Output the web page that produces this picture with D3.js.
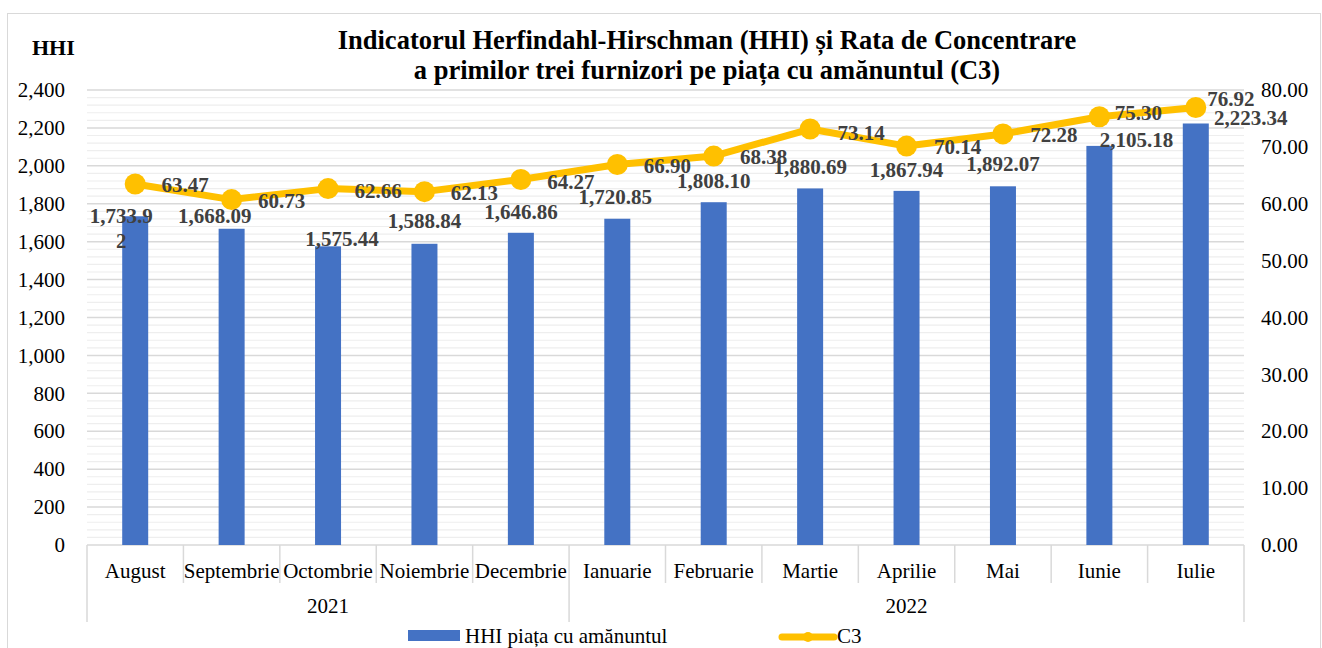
<!DOCTYPE html>
<html>
<head>
<meta charset="utf-8">
<script src="https://cdn.jsdelivr.net/npm/d3@7"></script>
<style>
  body { margin: 0; background: #fff; }
  text { font-family: "Times New Roman", "Liberation Serif", serif; }
</style>
</head>
<body>
<script>
var months = ["August","Septembrie","Octombrie","Noiembrie","Decembrie","Ianuarie","Februarie","Martie","Aprilie","Mai","Iunie","Iulie"];
var years = ["2021","2021","2021","2021","2021","2022","2022","2022","2022","2022","2022","2022"];
var hhi = [1733.92,1668.09,1575.44,1588.84,1646.86,1720.85,1808.10,1880.69,1867.94,1892.07,2105.18,2223.34];
var c3 = [63.47,60.73,62.66,62.13,64.27,66.90,68.38,73.14,70.14,72.28,75.30,76.92];
var hhiTicks = [0,200,400,600,800,1000,1200,1400,1600,1800,2000,2200,2400];
var c3Ticks = [0,10,20,30,40,50,60,70,80];

// label nudges (like the hand-moved labels of the original)
var hhiShift = [[-14,-1],[-17,-13],[14,-8],[0,-23],[0,-21],[-2,-22],[0,-22],[0,-22],[0,-21],[0,-23],[37,-6],[55,-6]];
var c3Shift = [[50,1],[50,1],[50,2],[50,1],[50,2],[50,1],[50,1],[51,4],[51,1],[51,1],[39,-4],[35,-9]];

var W = 1322, H = 648;
var pLeft = 87, pRight = 1244, pTop = 90, pBottom = 545;
var blue = "#4472C4", gold = "#FFC000", grid = "#d9d9d9", lab = "#404040";

var svg = d3.select("body").append("svg")
    .attr("width", W)
    .attr("height", H);

svg.append("rect")
    .attr("x", 7.5).attr("y", 13.5)
    .attr("width", 1313).attr("height", 660)
    .attr("fill", "#fff")
    .attr("stroke", grid);

var x = d3.scaleBand().domain(months).range([pLeft, pRight]);
var yL = d3.scaleLinear().domain([0, 2400]).range([pBottom, pTop]);
var yR = d3.scaleLinear().domain([0, 80]).range([pBottom, pTop]);

// gridlines: minor every 40, major every 200
svg.append("g").selectAll("line")
    .data(d3.range(40, 2400, 40).filter(function(d){ return d % 200 != 0; }))
    .enter().append("line")
    .attr("x1", pLeft).attr("x2", pRight)
    .attr("y1", function(d){ return yL(d); })
    .attr("y2", function(d){ return yL(d); })
    .attr("stroke", "#eeeeee")
    .attr("stroke-width", 1.2);

svg.append("g").selectAll("line")
    .data(hhiTicks.slice(1))
    .enter().append("line")
    .attr("x1", pLeft).attr("x2", pRight)
    .attr("y1", function(d){ return yL(d); })
    .attr("y2", function(d){ return yL(d); })
    .attr("stroke", grid)
    .attr("stroke-width", 1.5);

// left axis
var gl = svg.append("g")
    .attr("transform", "translate(" + pLeft + ",0)")
    .call(d3.axisLeft(yL).tickValues(hhiTicks).tickSize(0).tickPadding(22).tickFormat(d3.format(",")));
gl.select(".domain").remove();
gl.selectAll("text").attr("font-size", "21px").attr("fill", "#000").attr("font-family", null);

// right axis
var gr = svg.append("g")
    .attr("transform", "translate(" + pRight + ",0)")
    .call(d3.axisRight(yR).tickValues(c3Ticks).tickSize(0).tickPadding(17).tickFormat(d3.format(".2f")));
gr.select(".domain").remove();
gr.selectAll("text").attr("font-size", "21px").attr("fill", "#000").attr("font-family", null);

// category axis, two levels
var gb = svg.append("g")
    .attr("transform", "translate(0," + pBottom + ")")
    .call(d3.axisBottom(x).tickSize(0).tickPadding(18));
gb.select(".domain").remove();
gb.selectAll("text").attr("font-size", "21px").attr("fill", "#000").attr("font-family", null);

var bounds = months.map(function(m){ return x(m); }).concat([pRight]);
svg.append("g").selectAll("line")
    .data(bounds)
    .enter().append("line")
    .attr("x1", function(d){ return d; })
    .attr("x2", function(d){ return d; })
    .attr("y1", pBottom)
    .attr("y2", function(d, i){
        var edge = i == 0 || i == months.length || years[i] != years[i-1];
        return edge ? 622 : 583;
    })
    .attr("stroke", grid)
    .attr("stroke-width", 1.5);

svg.append("line")
    .attr("x1", pLeft).attr("x2", pRight)
    .attr("y1", pBottom).attr("y2", pBottom)
    .attr("stroke", grid)
    .attr("stroke-width", 1.5);

var yearNames = Array.from(new Set(years));
svg.append("g").selectAll("text")
    .data(yearNames)
    .enter().append("text")
    .text(function(d){ return d; })
    .attr("x", function(d){
        var ms = months.filter(function(m, i){ return years[i] == d; });
        return (x(ms[0]) + x(ms[ms.length-1]) + x.bandwidth()) / 2;
    })
    .attr("y", 606)
    .attr("dy", "0.35em")
    .attr("text-anchor", "middle")
    .attr("font-size", "21px");

// bars
var bw = 26;
svg.append("g").selectAll("rect")
    .data(hhi)
    .enter().append("rect")
    .attr("x", function(d, i){ return x(months[i]) + x.bandwidth()/2 - bw/2; })
    .attr("y", function(d){ return yL(d); })
    .attr("width", bw)
    .attr("height", function(d){ return pBottom - yL(d); })
    .attr("fill", blue);

// C3 line
var line = d3.line()
    .x(function(d, i){ return x(months[i]) + x.bandwidth()/2; })
    .y(function(d){ return yR(d); });

svg.append("path")
    .datum(c3)
    .attr("d", line)
    .attr("fill", "none")
    .attr("stroke", gold)
    .attr("stroke-width", 7)
    .attr("stroke-linejoin", "round");

svg.append("g").selectAll("circle")
    .data(c3)
    .enter().append("circle")
    .attr("cx", function(d, i){ return x(months[i]) + x.bandwidth()/2; })
    .attr("cy", function(d){ return yR(d); })
    .attr("r", 10.5)
    .attr("fill", gold);

// data labels
var fmtH = d3.format(",.2f");
var hl = svg.append("g").selectAll("text")
    .data(hhi)
    .enter().append("text")
    .attr("x", function(d, i){ return x(months[i]) + x.bandwidth()/2 + hhiShift[i][0]; })
    .attr("y", function(d, i){ return yL(d) + hhiShift[i][1]; })
    .attr("dy", "0.35em")
    .attr("text-anchor", "middle")
    .attr("font-size", "21px")
    .attr("font-weight", "bold")
    .attr("fill", lab);

hl.each(function(d, i){
    var s = fmtH(d);
    var t = d3.select(this);
    if (i == 0) {
        // first label wraps in the original
        t.append("tspan").text(s.slice(0, 7));
        t.append("tspan").attr("x", t.attr("x")).attr("dy", 25).text(s.slice(7));
    } else {
        t.text(s);
    }
});

svg.append("g").selectAll("text")
    .data(c3)
    .enter().append("text")
    .text(function(d){ return d.toFixed(2); })
    .attr("x", function(d, i){ return x(months[i]) + x.bandwidth()/2 + c3Shift[i][0]; })
    .attr("y", function(d, i){ return yR(d) + c3Shift[i][1]; })
    .attr("dy", "0.35em")
    .attr("text-anchor", "middle")
    .attr("font-size", "21px")
    .attr("font-weight", "bold")
    .attr("fill", lab);

// titles
svg.append("text")
    .text("HHI")
    .attr("x", 32).attr("y", 47)
    .attr("dy", "0.35em")
    .attr("font-size", "22px")
    .attr("font-weight", "bold");

var title = ["Indicatorul Herfindahl-Hirschman (HHI) și Rata de Concentrare",
             "a primilor trei furnizori pe piața cu amănuntul (C3)"];
svg.append("g").selectAll("text")
    .data(title)
    .enter().append("text")
    .text(function(d){ return d; })
    .attr("x", 707)
    .attr("y", function(d, i){ return 40 + i*30; })
    .attr("dy", "0.35em")
    .attr("text-anchor", "middle")
    .attr("font-size", "26.5px")
    .attr("font-weight", "bold");

// legend
svg.append("rect")
    .attr("x", 408).attr("y", 630)
    .attr("width", 52).attr("height", 11)
    .attr("fill", blue);
svg.append("text")
    .text("HHI piața cu amănuntul")
    .attr("x", 465).attr("y", 636)
    .attr("dy", "0.35em")
    .attr("font-size", "21px");

svg.append("line")
    .attr("x1", 782).attr("x2", 834)
    .attr("y1", 637).attr("y2", 637)
    .attr("stroke", gold)
    .attr("stroke-width", 7)
    .attr("stroke-linecap", "round");
svg.append("circle")
    .attr("cx", 808).attr("cy", 637)
    .attr("r", 5)
    .attr("fill", gold);
svg.append("text")
    .text("C3")
    .attr("x", 837).attr("y", 636)
    .attr("dy", "0.35em")
    .attr("font-size", "21px");
</script>
</body>
</html>
